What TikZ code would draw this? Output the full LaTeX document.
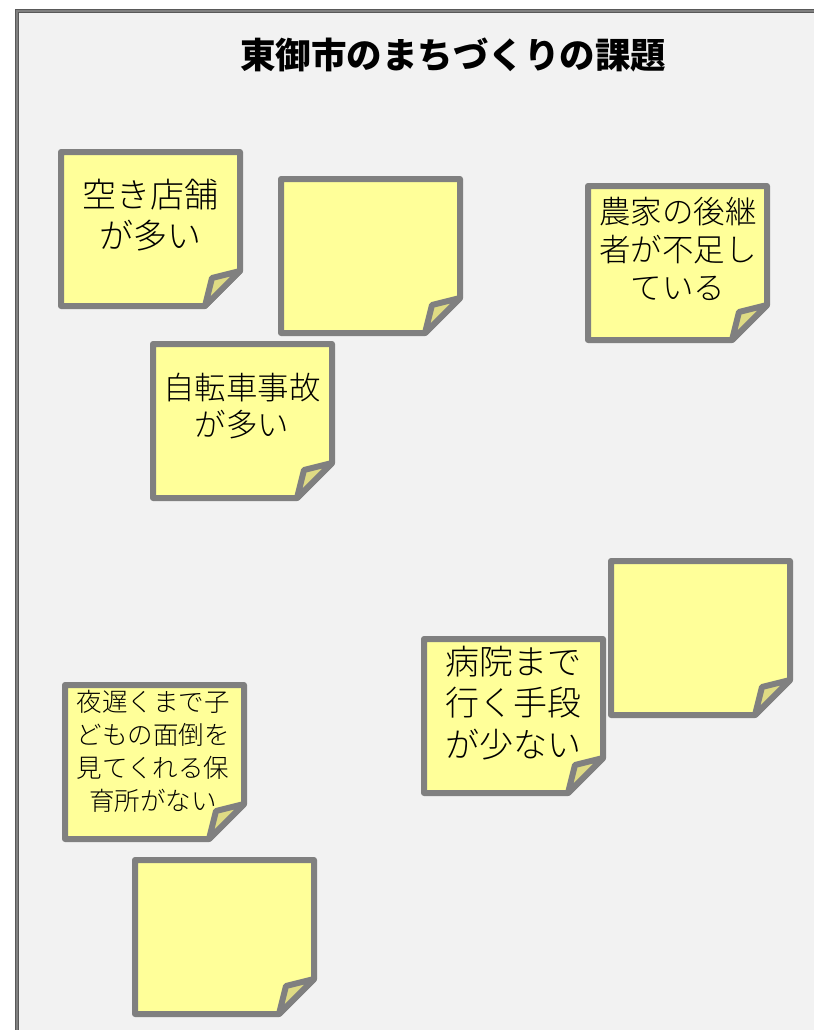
\documentclass[tikz,border=0pt]{standalone}
\usepackage{fontspec}
\setmainfont{Noto Sans CJK JP}
\newfontfamily\lightjp{Noto Sans CJK JP Light}
\definecolor{notefill}{HTML}{FFFF99}
\definecolor{noteedge}{HTML}{808080}
\definecolor{foldfill}{HTML}{DFDB84}
\definecolor{panel}{HTML}{F2F2F2}
\tikzset{
  x=1pt,y=-1pt,
  notebody/.style={draw=noteedge,line width=6pt,line join=round,fill=notefill},
  notefold/.style={draw=noteedge,line width=6pt,line join=round,fill=foldfill},
  notetext/.style={align=center,inner sep=0pt,text=black,anchor=center},
}
% #1 left, #2 top of the note's outline
\newcommand{\stickynote}[2]{%
  \draw[notebody,shift={(#1,#2)}] (0,0) -- (179,0) -- (179,119) -- (144,154) -- (0,154) -- cycle;
  \draw[notefold,shift={(#1,#2)}] (179,119) -- (151,126) -- (144,154) -- cycle;
}
\newcommand{\notefont}[2]{\lightjp\fontsize{#1}{#2}\selectfont}
\begin{document}
\begin{tikzpicture}
\useasboundingbox (0,0) rectangle (814,1030);
\fill[white] (0,0) rectangle (814,1030);
\fill[panel] (17,11) rectangle (814,1030);
\draw[noteedge,line width=3.4pt] (17,1030) -- (17,11) -- (814,11);
\draw[black!65,line width=.9pt] (15.3,1030) -- (15.3,9.3) -- (814,9.3);
\draw[black!65,line width=.9pt] (18.6,1030) -- (18.6,12.6) -- (814,12.6);

\node[notetext,font=\bfseries\fontsize{35.5}{40}\selectfont] (title) at (453,55) {東御市のまちづくりの課題};

\stickynote{61}{152}
\stickynote{281}{179}
\stickynote{153}{344}
\stickynote{588}{186}
\stickynote{611}{561}
\stickynote{424}{639}
\stickynote{65}{685}
\stickynote{135}{860}

\node[notetext,font=\notefont{34}{41}] (n1) at (150,215) {空き店舗\\が多い};
\node[notetext,font=\notefont{31.5}{37.5}] (n3) at (242,406) {自転車事故\\が多い};
\node[notetext,font=\notefont{31.5}{38}] (n4) at (678,249) {農家の後継\\者が不足し\\ている};
\node[notetext,font=\notefont{34}{41.5}] (n6) at (513,703) {病院まで\\行く手段\\が少ない};
\node[notetext,font=\notefont{25.5}{33}] (n7) at (153,751) {夜遅くまで子\\どもの面倒を\\見てくれる保\\育所がない};
\end{tikzpicture}
\end{document}
